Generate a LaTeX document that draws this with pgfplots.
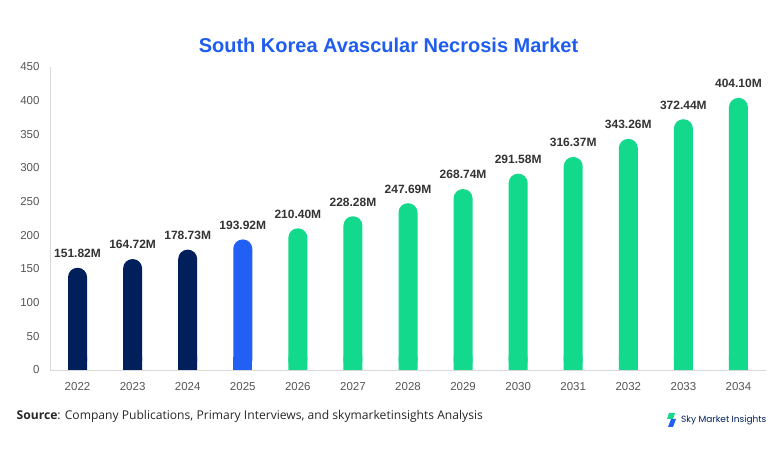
\documentclass[border=0pt]{standalone}
\usepackage{pgfplots}
\pgfplotsset{compat=1.18}
\usepackage{pgfplotstable}
\usepackage{fontspec}
\setmainfont{Liberation Sans}
\newfontfamily\srcfont{Open Sans}
\newfontfamily\logofont{Poppins}
\definecolor{navy}{HTML}{001F5B}
\definecolor{midblue}{HTML}{2160F3}
\definecolor{green}{HTML}{13D98D}
\definecolor{titleblue}{HTML}{1F5CF0}
\definecolor{ticktext}{HTML}{555555}
\definecolor{lbltext}{HTML}{333333}
\pgfplotstableread{
x y label
0 151.82 151.82M
1 164.72 164.72M
2 178.73 178.73M
}\navydata
\pgfplotstableread{
x y label
3 193.92 193.92M
}\bluedata
\pgfplotstableread{
x y label
4 210.40 210.40M
5 228.28 228.28M
6 247.69 247.69M
7 268.74 268.74M
8 291.58 291.58M
9 316.37 316.37M
10 343.26 343.26M
11 372.44 372.44M
12 404.10 404.10M
}\greendata
\begin{document}
\begin{tikzpicture}[x=1bp,y=1bp]
\path[use as bounding box] (0,0) rectangle (782,454);
\begin{axis}[
  at={(50bp,84bp)}, anchor=south west,
  scale only axis, width=716bp, height=303bp,
  xmin=-0.5, xmax=12.5, ymin=0, ymax=450,
  axis lines*=left,
  axis line style={draw=black!15, line width=0.8bp},
  xtick={0,...,12},
  xticklabels={2022,2023,2024,2025,2026,2027,2028,2029,2030,2031,2032,2033,2034},
  ytick={0,50,...,450},
  major tick length=0pt,
  tick label style={font=\fontsize{11.5bp}{13bp}\selectfont, text=ticktext},
  /pgf/number format/assume math mode=true,
  yticklabel style={xshift=-7bp},
  xticklabel style={yshift=-9bp},
  ybar, bar width=19bp, bar shift=0pt,
  nodes near coords,
  point meta=explicit symbolic,
  every node near coord/.append style={font=\bfseries\fontsize{12bp}{14bp}\selectfont, text=lbltext, yshift=6.5bp},
  clip=false,
]
\addplot[fill=navy, draw=none, rounded corners=9.4bp] table[x=x, y=y, meta=label] {\navydata};
\addplot[fill=midblue, draw=none, rounded corners=9.4bp] table[x=x, y=y, meta=label] {\bluedata};
\addplot[fill=green, draw=none, rounded corners=9.4bp] table[x=x, y=y, meta=label] {\greendata};
% square bottom corners
\addplot[fill=navy, draw=none, nodes near coords=] table[x=x, y expr=20] {\navydata};
\addplot[fill=midblue, draw=none, nodes near coords=] table[x=x, y expr=20] {\bluedata};
\addplot[fill=green, draw=none, nodes near coords=] table[x=x, y expr=20] {\greendata};
\end{axis}
\node[font=\bfseries\fontsize{20bp}{23bp}\selectfont, text=titleblue] at (388.5,408.5) {South Korea Avascular Necrosis Market};
\node[anchor=west, font=\srcfont\fontsize{12.1bp}{14bp}\selectfont, text=black!85, inner sep=0] at (16.5,38) {\textbf{Source}: Company Publications, Primary Interviews, and skymarketinsights Analysis};
\fill[green] (669,41) -- (675,41) -- (673,35) -- (667,35) -- cycle;
\fill[midblue] (671,35) -- (676,35) -- (673,27) -- (668,27) -- cycle;
\node[anchor=west, font=\logofont\fontsize{9bp}{11bp}\selectfont, text=navy, inner sep=0] at (681,33.3) {Sky Market Insights};
\end{tikzpicture}
\end{document}
